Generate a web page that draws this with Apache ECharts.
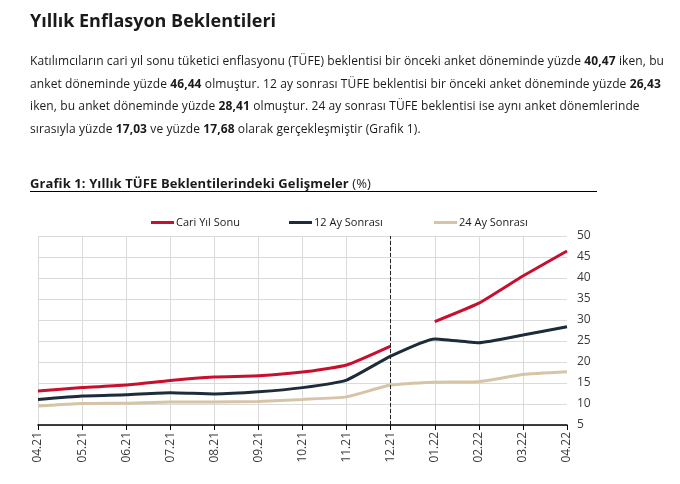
<!DOCTYPE html>
<html>
<head>
<meta charset="utf-8">
<script src="https://cdn.jsdelivr.net/npm/echarts@6/dist/echarts.min.js"></script>
<style>
  body { margin: 0; background: #fff; font-family: "Open Sans", sans-serif; color: #1a1a1a; }
  #page { position: relative; width: 680px; height: 484px; overflow: hidden; }
  #main { position: absolute; left: 0; top: 0; width: 680px; height: 484px; }
  .h1 { position: absolute; left: 30px; top: 8px; font-size: 18px; font-weight: 700; white-space: nowrap; }
  .txt { position: absolute; left: 30px; top: 50px; font-size: 12px; line-height: 22.7px; letter-spacing: 0.1px; white-space: nowrap; color: #1a1a1a; }
  .ctitle { position: absolute; left: 30px; top: 174px; font-size: 13px; font-weight: 700; letter-spacing: 0.1px; white-space: nowrap; }
  .ctitle span { font-weight: 400; }
  .rule { position: absolute; left: 30px; top: 191px; width: 567px; height: 0; border-top: 1.5px solid #000; }
</style>
</head>
<body>
<div id="page">
  <div id="main"></div>
  <div class="h1">Yıllık Enflasyon Beklentileri</div>
  <div class="txt">
    Katılımcıların cari yıl sonu tüketici enflasyonu (TÜFE) beklentisi bir önceki anket döneminde yüzde <b>40,47</b> iken, bu<br>
    anket döneminde yüzde <b>46,44</b> olmuştur. 12 ay sonrası TÜFE beklentisi bir önceki anket döneminde yüzde <b>26,43</b><br>
    iken, bu anket döneminde yüzde <b>28,41</b> olmuştur. 24 ay sonrası TÜFE beklentisi ise aynı anket dönemlerinde<br>
    sırasıyla yüzde <b>17,03</b> ve yüzde <b>17,68</b> olarak gerçekleşmiştir (Grafik 1).
  </div>
  <div class="ctitle">Grafik 1: Yıllık TÜFE Beklentilerindeki Gelişmeler <span>(%)</span></div>
  <div class="rule"></div>
</div>
<script>
// aylar
var months = ['04.21','05.21','06.21','07.21','08.21','09.21','10.21','11.21','12.21','01.22','02.22','03.22','04.22'];

// Cari yıl sonu (12.21'den sonra yeni yıl, çizgi kopuk)
var cariYilSonu2021 = [13.1, 13.9, 14.5, 15.6, 16.4, 16.7, 17.6, 19.3, 23.8, null, null, null, null];
var cariYilSonu2022 = [null, null, null, null, null, null, null, null, null, 29.6, 34.0, 40.47, 46.44];
var onIkiAySonrasi = [11.1, 11.9, 12.2, 12.7, 12.4, 12.9, 13.9, 15.7, 21.4, 25.5, 24.6, 26.43, 28.41];
var yirmiDortAySonrasi = [9.5, 10.1, 10.2, 10.5, 10.5, 10.6, 11.1, 11.7, 14.5, 15.2, 15.3, 17.03, 17.68];

var yTicks = { min: 5, max: 50, step: 5 };

var RED = '#c8102e';
var NAVY = '#1d2b3a';
var TAN = '#d6c4a6';

var chart = echarts.init(document.getElementById('main'), null, { renderer: 'canvas' });

function legendAt(left, name) {
  return {
    left: left,
    top: 212,
    data: [name],
    icon: 'rect',
    itemWidth: 23,
    itemHeight: 3,
    selectedMode: false,
    textStyle: { fontFamily: 'Open Sans', fontSize: 11, color: '#1a1a1a', padding: [0, 0, 0, -3] }
  };
}

var option = {
  animation: false,
  legend: [
    legendAt(146, 'Cari Yıl Sonu'),
    legendAt(284, '12 Ay Sonrası'),
    legendAt(429, '24 Ay Sonrası')
  ],
  grid: { left: 38, right: 113, top: 236, bottom: 59 },
  xAxis: {
    type: 'category',
    data: months,
    boundaryGap: false,
    axisLine: { lineStyle: { color: '#000', width: 1.5 } },
    axisTick: { show: true, length: 5, lineStyle: { color: '#000' } },
    axisLabel: {
      rotate: 90,
      margin: 7,
      fontFamily: 'Open Sans',
      fontSize: 12,
      color: '#3a3a3a'
    },
    splitLine: {
      show: true,
      interval: function (i) { return i !== months.length - 1; },
      lineStyle: { color: '#dadada', width: 1 }
    }
  },
  yAxis: {
    type: 'value',
    position: 'right',
    min: yTicks.min,
    max: yTicks.max,
    interval: yTicks.step,
    axisLine: { show: false },
    axisTick: { show: false },
    axisLabel: { margin: 10, fontFamily: 'Open Sans', fontSize: 12, color: '#3a3a3a' },
    splitLine: { lineStyle: { color: '#dadada', width: 1 } }
  },
  series: [
    {
      name: 'Cari Yıl Sonu',
      type: 'line',
      data: cariYilSonu2021,
      smooth: 0.15,
      showSymbol: false,
      color: RED,
      lineStyle: { width: 3, color: RED },
      markLine: {
        silent: true,
        symbol: ['none', 'none'],
        label: { show: false },
        lineStyle: { color: '#222', type: [4, 2], width: 1 },
        data: [{ xAxis: '12.21' }]
      }
    },
    {
      name: 'Cari Yıl Sonu',
      type: 'line',
      data: cariYilSonu2022,
      smooth: 0.15,
      showSymbol: false,
      color: RED,
      lineStyle: { width: 3, color: RED }
    },
    {
      name: '12 Ay Sonrası',
      type: 'line',
      data: onIkiAySonrasi,
      smooth: 0.15,
      showSymbol: false,
      color: NAVY,
      lineStyle: { width: 3, color: NAVY }
    },
    {
      name: '24 Ay Sonrası',
      type: 'line',
      data: yirmiDortAySonrasi,
      smooth: 0.15,
      showSymbol: false,
      color: TAN,
      lineStyle: { width: 3, color: TAN }
    }
  ]
};
chart.setOption(option);
</script>
</body>
</html>
